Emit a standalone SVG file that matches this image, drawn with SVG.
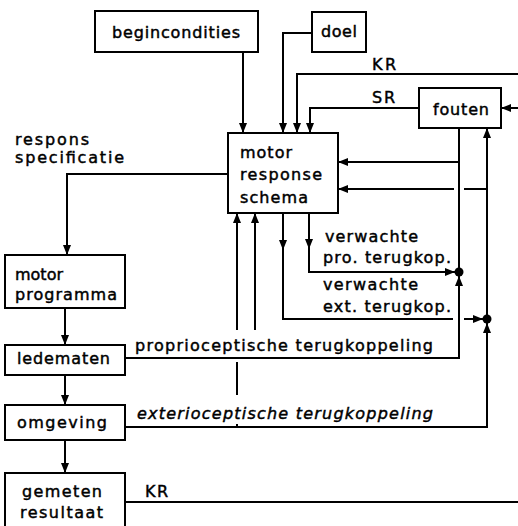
<svg xmlns="http://www.w3.org/2000/svg" width="518" height="526" viewBox="0 0 518 526">
<defs>
<marker id="arr" viewBox="0 0 10 8" refX="10" refY="4" markerWidth="10" markerHeight="8" markerUnits="userSpaceOnUse" orient="auto">
<path d="M0,0 L10,4 L0,8 z" fill="#000"/>
</marker>
</defs>
<style>
rect{fill:#fff;stroke:#000;stroke-width:2}
text{font-family:"DejaVu Sans","Liberation Sans",sans-serif;font-size:16px;fill:#000;stroke:#000;stroke-width:0.45}
.c path{fill:none;stroke:#000;stroke-width:2}
.a{marker-end:url(#arr)}
.i{font-style:italic}
</style>
<rect x="0" y="0" width="518" height="526" style="fill:#fff;stroke:none"/>
<g id="begincondities"><rect x="95" y="11" width="163" height="41"/><text x="112" y="38" textLength="128" lengthAdjust="spacing">begincondities</text></g>
<g id="doel"><rect x="312" y="12" width="54" height="40"/><text x="321" y="37" textLength="36" lengthAdjust="spacing">doel</text></g>
<g id="fouten"><rect x="419" y="88" width="82" height="40"/><text x="433" y="115" textLength="56" lengthAdjust="spacing">fouten</text></g>
<g id="schema"><rect x="228" y="133" width="110" height="80"/><text x="240" y="158" textLength="52" lengthAdjust="spacing">motor</text><text x="240" y="180" textLength="82" lengthAdjust="spacing">response</text><text x="240" y="203" textLength="68" lengthAdjust="spacing">schema</text></g>
<g id="programma"><rect x="5" y="255" width="120" height="53"/><text x="15" y="280" textLength="48" lengthAdjust="spacing">motor</text><text x="15" y="300" textLength="102" lengthAdjust="spacing">programma</text></g>
<g id="ledematen"><rect x="5" y="345" width="120" height="30"/><text x="17" y="364" textLength="93" lengthAdjust="spacing">ledematen</text></g>
<g id="omgeving"><rect x="5" y="405" width="120" height="35"/><text x="17" y="428" textLength="90" lengthAdjust="spacing">omgeving</text></g>
<g id="resultaat"><rect x="5" y="473" width="120" height="70"/><text x="22" y="497" textLength="80" lengthAdjust="spacing">gemeten</text><text x="20" y="518" textLength="83" lengthAdjust="spacing">resultaat</text></g>
<g class="c" id="connectors">
<path class="a" d="M243,52 V133"/>
<path class="a" d="M312,33 H283 V133"/>
<path class="a" d="M518,74 H297 V133"/>
<path class="a" d="M419,108 H310 V133"/>
<path class="a" d="M518,108 H501"/>
<path class="a" d="M228,174 H67 V255"/>
<path class="a" d="M65,308 V345"/>
<path class="a" d="M65,375 V405"/>
<path class="a" d="M65,440 V473"/>
<path d="M459,128 V272"/>
<path class="a" d="M459,162 H338"/>
<path class="a" d="M487,319 V128"/>
<path d="M487,189 H464"/>
<path class="a" d="M454,189 H338"/>
<path class="a" d="M309,213 V249"/>
<path class="a" d="M309,246 V272 H455"/>
<path class="a" d="M283,213 V250"/>
<path d="M283,247 V319 H453"/>
<path class="a" d="M464,319 H483"/>
<path class="a" d="M125,358 H459 V276"/>
<path class="a" d="M125,427 H487 V323"/>
<path class="a" d="M255,330 V213"/>
<path class="a" d="M237,330 V213"/>
<path d="M237,362 V395"/>
<path d="M237,424 V427"/>
<path d="M125,502 H518"/>
<circle cx="459" cy="272" r="4.5" fill="#000"/>
<circle cx="487" cy="319" r="4.5" fill="#000"/>
</g>
<g id="labels">
<text x="372" y="70" textLength="24" lengthAdjust="spacing">KR</text>
<text x="372" y="103" textLength="23" lengthAdjust="spacing">SR</text>
<text x="15" y="145" textLength="74" lengthAdjust="spacing">respons</text>
<text x="15" y="163" textLength="109" lengthAdjust="spacing">specificatie</text>
<text x="325" y="242" textLength="93" lengthAdjust="spacing">verwachte</text>
<text x="323" y="263" textLength="128" lengthAdjust="spacing">pro. terugkop.</text>
<text x="323" y="290" textLength="95" lengthAdjust="spacing">verwachte</text>
<text x="323" y="312" textLength="128" lengthAdjust="spacing">ext. terugkop.</text>
<text x="135" y="351" textLength="298" lengthAdjust="spacing">proprioceptische terugkoppeling</text>
<text class="i" x="137" y="419" textLength="296" lengthAdjust="spacing">exterioceptische terugkoppeling</text>
<text x="145" y="497" textLength="23" lengthAdjust="spacing">KR</text>
</g>
</svg>
